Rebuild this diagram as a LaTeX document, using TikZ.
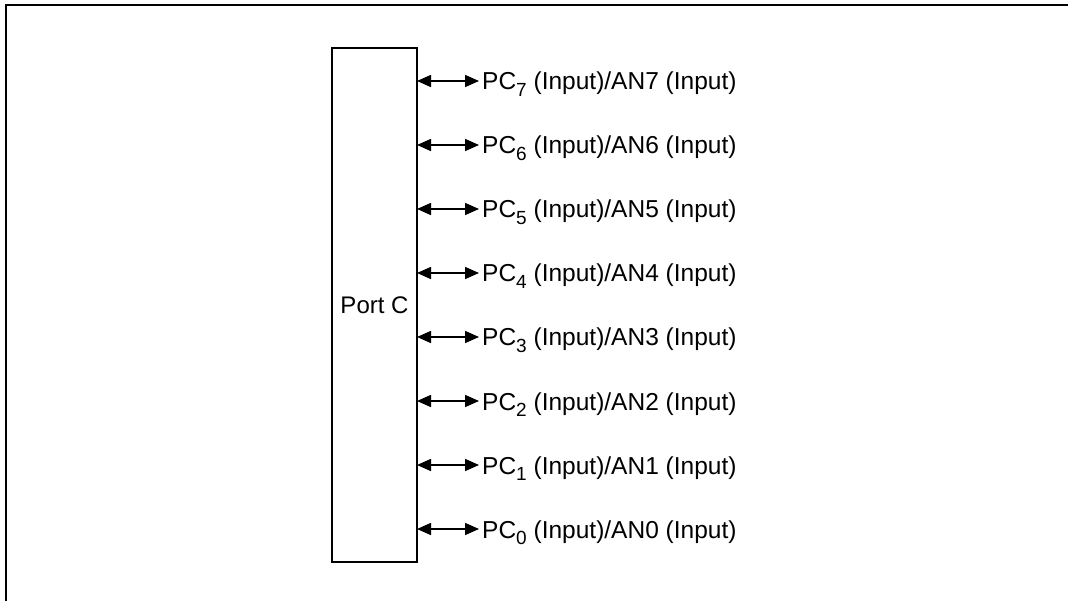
\documentclass[tikz,border=0pt]{standalone}
\usepackage{fontspec}
\setmainfont{Liberation Sans}
\usetikzlibrary{arrows.meta}
\newcommand{\pinsub}[1]{\raisebox{-6.5pt}{\fontsize{19}{20}\selectfont #1}}
\tikzset{
  frameline/.style={line width=1.8pt, line cap=rect},
  portbox/.style={draw, line width=1.6pt, minimum width=85pt, minimum height=514pt, inner sep=0pt},
  pinlabel/.style={anchor=west, inner xsep=3pt, inner ysep=0pt, text height=18pt, text depth=0pt, font=\fontsize{24.5}{28}\selectfont},
  pinarrow/.style={line width=1.5pt, {Triangle[length=14pt,width=12pt]}-{Triangle[length=14pt,width=12pt]}},
}
\begin{document}
\begin{tikzpicture}[x=1pt,y=-1pt]
\useasboundingbox (0,0) rectangle (1068,601);
\coordinate (ftl) at (6,5);
\coordinate (ftr) at (1068,5);
\coordinate (fbl) at (6,601);
\draw[frameline] (fbl) -- (ftl) -- (ftr);
\node[portbox, font=\fontsize{24}{28}\selectfont] (box) at (374.5,305) {Port C};
\foreach \k/\n in {7/0,6/1,5/2,4/3,3/4,2/5,1/6,0/7}{
  \coordinate (p\k) at (417,81+64*\n);
  \node[pinlabel] (l\k) at (479,81+64*\n) {PC\pinsub{\k} (Input)/AN\k{} (Input)};
  \draw[pinarrow] (p\k) -- (l\k.west);
}
\end{tikzpicture}
\end{document}
